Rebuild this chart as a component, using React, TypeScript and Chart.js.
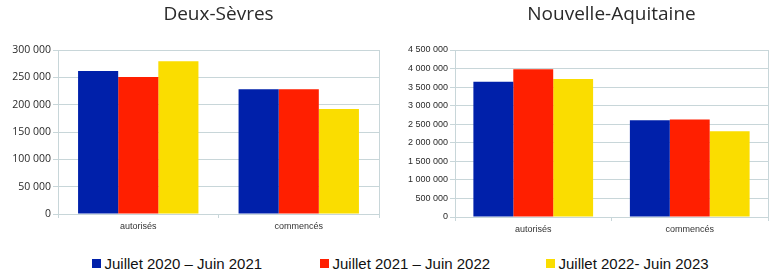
import React, { useEffect, useRef } from 'react';
import { Chart, registerables } from 'chart.js';

Chart.register(...registerables);

const categories = ['autorisés', 'commencés'];
const seriesLabels = ['Juillet 2020 – Juin 2021', 'Juillet 2021 – Juin 2022', 'Juillet 2022- Juin 2023'];
const seriesColors = ['#0020aa', '#ff1f00', '#fadd00'];

const deuxSevres2021 = [261500, 228000];
const deuxSevres2022 = [250500, 228000];
const deuxSevres2023 = [279300, 192000];

const nouvelleAquitaine2021 = [3647000, 2609000];
const nouvelleAquitaine2022 = [3980000, 2625000];
const nouvelleAquitaine2023 = [3720000, 2313000];

const leftTitle = 'Deux-Sèvres';
const rightTitle = 'Nouvelle-Aquitaine';
const leftMax = 300000;
const leftStep = 50000;
const rightMax = 4500000;
const rightStep = 500000;

const gridColor = '#c8d6d9';

const fmt = (v: number) => String(v).replace(/\B(?=(\d{3})+(?!\d))/g, ' ');

interface Cfg {
  title: string;
  series: number[][];
  max: number;
  step: number;
  yWidth: number;
  padRight: number;
  xHeight: number;
  pct: number;
  tickFont: any;
}

function makeConfig(c: Cfg): any {
  return {
    type: 'bar',
    data: {
      labels: categories,
      datasets: c.series.map((d, i) => ({
        label: seriesLabels[i],
        data: d,
        backgroundColor: seriesColors[i],
        borderWidth: 0,
        categoryPercentage: c.pct,
        barPercentage: 1,
      })),
    },
    options: {
      responsive: false,
      animation: false,
      layout: { padding: { left: 0, right: c.padRight, top: 0, bottom: 0 } },
      plugins: {
        legend: { display: false },
        tooltip: { enabled: false },
        title: {
          display: true,
          text: c.title,
          fullSize: false,
          color: '#2a2a2a',
          font: { family: '"Open Sans", sans-serif', size: 19, weight: 'normal', lineHeight: 1.2 },
          padding: { top: 3.1, bottom: 24.1 },
        },
      },
      scales: {
        x: {
          type: 'category',
          offset: true,
          grid: {
            offset: true,
            drawOnChartArea: true,
            color: (ctx: any) => (ctx.index === 1 ? 'rgba(0,0,0,0)' : gridColor),
            tickColor: gridColor,
            tickLength: 4,
            lineWidth: 1,
          },
          border: { color: gridColor },
          ticks: {
            color: '#333',
            padding: 3,
            font: { family: '"Liberation Sans", Arial, sans-serif', size: 9 },
            maxRotation: 0,
          },
          afterFit: (s: any) => {
            s.height = c.xHeight;
          },
        },
        y: {
          min: 0,
          max: c.max,
          grid: { color: gridColor, tickColor: gridColor, tickLength: 5, lineWidth: 1 },
          border: { color: gridColor },
          ticks: {
            stepSize: c.step,
            color: '#2a2a2a',
            padding: 2,
            font: c.tickFont,
            callback: (v: any) => fmt(Number(v)),
          },
          afterFit: (s: any) => {
            s.width = c.yWidth;
          },
        },
      },
    },
  };
}

function BarChart(props: { cfg: Cfg; width: number; height: number; left: number }) {
  const ref = useRef<HTMLCanvasElement | null>(null);
  useEffect(() => {
    if (!ref.current) return;
    const chart = new Chart(ref.current, makeConfig(props.cfg));
    return () => chart.destroy();
  }, []);
  return (
    <canvas
      ref={ref}
      width={props.width}
      height={props.height}
      style={{ position: 'absolute', left: props.left, top: 0, width: props.width, height: props.height }}
    />
  );
}

const legendLeft = [92, 320, 546];

export default function App() {
  const leftCfg: Cfg = {
    title: leftTitle,
    series: [deuxSevres2021, deuxSevres2022, deuxSevres2023],
    max: leftMax,
    step: leftStep,
    yWidth: 58,
    padRight: 11,
    xHeight: 20,
    pct: 0.75,
    tickFont: { family: '"Open Sans", sans-serif', size: 10.5 },
  };
  const rightCfg: Cfg = {
    title: rightTitle,
    series: [nouvelleAquitaine2021, nouvelleAquitaine2022, nouvelleAquitaine2023],
    max: rightMax,
    step: rightStep,
    yWidth: 65,
    padRight: 13,
    xHeight: 20,
    pct: 0.765,
    tickFont: { family: '"Liberation Sans", Arial, sans-serif', size: 9 },
  };
  return (
    <div style={{ position: 'absolute', left: 0, top: 0, width: 781, height: 275, background: '#fff', overflow: 'hidden' }}>
      <BarChart cfg={leftCfg} width={390} height={234} left={0} />
      <BarChart cfg={rightCfg} width={391} height={237} left={390} />
      {seriesLabels.map((lab, i) => (
        <div
          key={lab}
          style={{
            position: 'absolute',
            left: legendLeft[i],
            top: 254,
            height: 18,
            display: 'flex',
            alignItems: 'center',
            whiteSpace: 'nowrap',
            fontFamily: '"Liberation Sans", Arial, sans-serif',
            fontSize: 15,
            color: '#111',
          }}
        >
          <span style={{ display: 'inline-block', width: 9, height: 9, background: seriesColors[i], marginRight: 3.5 }} />
          <span>{lab}</span>
        </div>
      ))}
    </div>
  );
}
